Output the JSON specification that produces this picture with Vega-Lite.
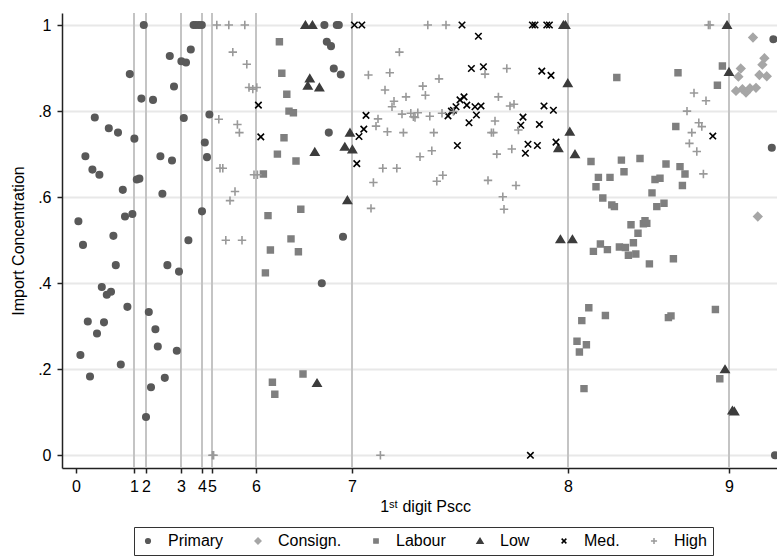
{
  "$schema": "https://vega.github.io/schema/vega-lite/v6.json",
  "autosize": {"type": "none"},
  "padding": {"left": 62, "top": 13, "right": 0, "bottom": 90},
  "width": 715,
  "height": 455,
  "background": "white",
  "config": {
    "font": "Liberation Sans",
    "view": {"stroke": null},
    "axis": {
      "domain": true,
      "ticks": true,
      "labelFont": "Liberation Sans",
      "titleFont": "Liberation Sans",
      "labelFontSize": 16,
      "titleFontSize": 16,
      "titleFontWeight": "normal",
      "labelColor": "#000",
      "titleColor": "#000",
      "domainColor": "#222",
      "domainWidth": 1.5,
      "tickColor": "#222",
      "tickWidth": 1.5,
      "tickSize": 5
    },
    "legend": {
      "orient": "none",
      "legendX": 72,
      "legendY": 514,
      "direction": "horizontal",
      "strokeColor": "#333",
      "padding": 6,
      "labelFont": "Liberation Sans",
      "labelFontSize": 16,
      "labelColor": "#000",
      "labelOffset": 12,
      "columnPadding": 26,
      "symbolSize": 22,
      "symbolStrokeWidth": 1.5
    }
  },
  "datasets": {
    "digits": [
      {"rank": 29}, {"rank": 35}, {"rank": 52.5}, {"rank": 63}, {"rank": 68},
      {"rank": 90}, {"rank": 138}, {"rank": 246}, {"rank": 326.5}
    ],
    "products": [
      {"group": "Primary", "rank": 33.9, "conc": 1},
      {"group": "Primary", "rank": 58.8, "conc": 1},
      {"group": "Primary", "rank": 60, "conc": 1},
      {"group": "Primary", "rank": 61.5, "conc": 1},
      {"group": "Primary", "rank": 62.9, "conc": 1},
      {"group": "Primary", "rank": 46.9, "conc": 0.928},
      {"group": "Primary", "rank": 57.4, "conc": 0.943},
      {"group": "Primary", "rank": 52.7, "conc": 0.916},
      {"group": "Primary", "rank": 55, "conc": 0.913},
      {"group": "Primary", "rank": 26.9, "conc": 0.886},
      {"group": "Primary", "rank": 49, "conc": 0.857},
      {"group": "Primary", "rank": 32.7, "conc": 0.829},
      {"group": "Primary", "rank": 38.5, "conc": 0.826},
      {"group": "Primary", "rank": 9.4, "conc": 0.785},
      {"group": "Primary", "rank": 53.9, "conc": 0.784},
      {"group": "Primary", "rank": 66.7, "conc": 0.792},
      {"group": "Primary", "rank": 16.4, "conc": 0.76},
      {"group": "Primary", "rank": 21, "conc": 0.75},
      {"group": "Primary", "rank": 29.2, "conc": 0.736},
      {"group": "Primary", "rank": 64.4, "conc": 0.727},
      {"group": "Primary", "rank": 4.7, "conc": 0.695},
      {"group": "Primary", "rank": 42.2, "conc": 0.695},
      {"group": "Primary", "rank": 48, "conc": 0.685},
      {"group": "Primary", "rank": 65.5, "conc": 0.693},
      {"group": "Primary", "rank": 8.2, "conc": 0.664},
      {"group": "Primary", "rank": 11.7, "conc": 0.652},
      {"group": "Primary", "rank": 30.4, "conc": 0.641},
      {"group": "Primary", "rank": 31.7, "conc": 0.643},
      {"group": "Primary", "rank": 23.4, "conc": 0.617},
      {"group": "Primary", "rank": 43.2, "conc": 0.608},
      {"group": "Primary", "rank": 1.2, "conc": 0.544},
      {"group": "Primary", "rank": 24.5, "conc": 0.555},
      {"group": "Primary", "rank": 28.2, "conc": 0.561},
      {"group": "Primary", "rank": 63, "conc": 0.567},
      {"group": "Primary", "rank": 18.7, "conc": 0.51},
      {"group": "Primary", "rank": 56.2, "conc": 0.5},
      {"group": "Primary", "rank": 3.5, "conc": 0.489},
      {"group": "Primary", "rank": 45.7, "conc": 0.442},
      {"group": "Primary", "rank": 19.9, "conc": 0.442},
      {"group": "Primary", "rank": 51.5, "conc": 0.427},
      {"group": "Primary", "rank": 12.9, "conc": 0.391},
      {"group": "Primary", "rank": 17.5, "conc": 0.38},
      {"group": "Primary", "rank": 15.4, "conc": 0.373},
      {"group": "Primary", "rank": 25.7, "conc": 0.345},
      {"group": "Primary", "rank": 36.4, "conc": 0.333},
      {"group": "Primary", "rank": 5.9, "conc": 0.311},
      {"group": "Primary", "rank": 14, "conc": 0.309},
      {"group": "Primary", "rank": 39.7, "conc": 0.293},
      {"group": "Primary", "rank": 10.5, "conc": 0.283},
      {"group": "Primary", "rank": 40.9, "conc": 0.253},
      {"group": "Primary", "rank": 50.4, "conc": 0.243},
      {"group": "Primary", "rank": 2.2, "conc": 0.233},
      {"group": "Primary", "rank": 22.4, "conc": 0.211},
      {"group": "Primary", "rank": 7, "conc": 0.183},
      {"group": "Primary", "rank": 44.4, "conc": 0.18},
      {"group": "Primary", "rank": 37.5, "conc": 0.158},
      {"group": "Primary", "rank": 35, "conc": 0.089},
      {"group": "Primary", "rank": 124.2, "conc": 1},
      {"group": "Primary", "rank": 130.4, "conc": 1},
      {"group": "Primary", "rank": 131.4, "conc": 1},
      {"group": "Primary", "rank": 125.4, "conc": 0.961},
      {"group": "Primary", "rank": 127.5, "conc": 0.951},
      {"group": "Primary", "rank": 128.9, "conc": 0.899},
      {"group": "Primary", "rank": 132.4, "conc": 0.885},
      {"group": "Primary", "rank": 126.4, "conc": 0.75},
      {"group": "Primary", "rank": 133.5, "conc": 0.508},
      {"group": "Primary", "rank": 122.9, "conc": 0.4},
      {"group": "Primary", "rank": 348.7, "conc": 0.967},
      {"group": "Primary", "rank": 347.9, "conc": 0.715},
      {"group": "Primary", "rank": 349.5, "conc": 0},
      {"group": "Consign.", "rank": 338.5, "conc": 0.971},
      {"group": "Consign.", "rank": 332.4, "conc": 0.899},
      {"group": "Consign.", "rank": 331.2, "conc": 0.88},
      {"group": "Consign.", "rank": 344.2, "conc": 0.923},
      {"group": "Consign.", "rank": 343.2, "conc": 0.908},
      {"group": "Consign.", "rank": 341.7, "conc": 0.884},
      {"group": "Consign.", "rank": 345.4, "conc": 0.881},
      {"group": "Consign.", "rank": 330, "conc": 0.847},
      {"group": "Consign.", "rank": 333.2, "conc": 0.851},
      {"group": "Consign.", "rank": 335, "conc": 0.843},
      {"group": "Consign.", "rank": 337, "conc": 0.853},
      {"group": "Consign.", "rank": 340, "conc": 0.854},
      {"group": "Consign.", "rank": 340.9, "conc": 0.555},
      {"group": "Labour", "rank": 101.7, "conc": 0.961},
      {"group": "Labour", "rank": 102.9, "conc": 0.888},
      {"group": "Labour", "rank": 105.4, "conc": 0.839},
      {"group": "Labour", "rank": 106.5, "conc": 0.8},
      {"group": "Labour", "rank": 108.7, "conc": 0.796},
      {"group": "Labour", "rank": 104, "conc": 0.738},
      {"group": "Labour", "rank": 100.7, "conc": 0.7},
      {"group": "Labour", "rank": 110, "conc": 0.684},
      {"group": "Labour", "rank": 93.7, "conc": 0.654},
      {"group": "Labour", "rank": 112.4, "conc": 0.572},
      {"group": "Labour", "rank": 96, "conc": 0.557},
      {"group": "Labour", "rank": 107.5, "conc": 0.503},
      {"group": "Labour", "rank": 97.2, "conc": 0.477},
      {"group": "Labour", "rank": 111.2, "conc": 0.473},
      {"group": "Labour", "rank": 94.7, "conc": 0.424},
      {"group": "Labour", "rank": 113.5, "conc": 0.189},
      {"group": "Labour", "rank": 98.2, "conc": 0.17},
      {"group": "Labour", "rank": 99.4, "conc": 0.142},
      {"group": "Labour", "rank": 270.4, "conc": 0.878},
      {"group": "Labour", "rank": 301, "conc": 0.889},
      {"group": "Labour", "rank": 323.2, "conc": 0.905},
      {"group": "Labour", "rank": 320.7, "conc": 0.86},
      {"group": "Labour", "rank": 299.9, "conc": 0.764},
      {"group": "Labour", "rank": 257.5, "conc": 0.683},
      {"group": "Labour", "rank": 272.7, "conc": 0.686},
      {"group": "Labour", "rank": 282, "conc": 0.69},
      {"group": "Labour", "rank": 295, "conc": 0.677},
      {"group": "Labour", "rank": 302, "conc": 0.671},
      {"group": "Labour", "rank": 304.5, "conc": 0.654},
      {"group": "Labour", "rank": 303.2, "conc": 0.627},
      {"group": "Labour", "rank": 261.2, "conc": 0.646},
      {"group": "Labour", "rank": 267, "conc": 0.646},
      {"group": "Labour", "rank": 274, "conc": 0.659},
      {"group": "Labour", "rank": 260, "conc": 0.624},
      {"group": "Labour", "rank": 289.5, "conc": 0.641},
      {"group": "Labour", "rank": 292, "conc": 0.644},
      {"group": "Labour", "rank": 288, "conc": 0.61},
      {"group": "Labour", "rank": 263.4, "conc": 0.598},
      {"group": "Labour", "rank": 267.9, "conc": 0.582},
      {"group": "Labour", "rank": 269.2, "conc": 0.578},
      {"group": "Labour", "rank": 290.4, "conc": 0.578},
      {"group": "Labour", "rank": 294, "conc": 0.586},
      {"group": "Labour", "rank": 277.5, "conc": 0.536},
      {"group": "Labour", "rank": 283.7, "conc": 0.538},
      {"group": "Labour", "rank": 285.4, "conc": 0.539},
      {"group": "Labour", "rank": 284.5, "conc": 0.545},
      {"group": "Labour", "rank": 281, "conc": 0.516},
      {"group": "Labour", "rank": 278.7, "conc": 0.494},
      {"group": "Labour", "rank": 262.2, "conc": 0.491},
      {"group": "Labour", "rank": 258.7, "conc": 0.474},
      {"group": "Labour", "rank": 265.7, "conc": 0.478},
      {"group": "Labour", "rank": 271.7, "conc": 0.484},
      {"group": "Labour", "rank": 274.7, "conc": 0.483},
      {"group": "Labour", "rank": 276.2, "conc": 0.465},
      {"group": "Labour", "rank": 279.9, "conc": 0.468},
      {"group": "Labour", "rank": 286.7, "conc": 0.445},
      {"group": "Labour", "rank": 298.7, "conc": 0.457},
      {"group": "Labour", "rank": 256.4, "conc": 0.343},
      {"group": "Labour", "rank": 252.9, "conc": 0.313},
      {"group": "Labour", "rank": 264.7, "conc": 0.325},
      {"group": "Labour", "rank": 250.5, "conc": 0.265},
      {"group": "Labour", "rank": 255.2, "conc": 0.257},
      {"group": "Labour", "rank": 251.7, "conc": 0.24},
      {"group": "Labour", "rank": 254, "conc": 0.155},
      {"group": "Labour", "rank": 296.2, "conc": 0.32},
      {"group": "Labour", "rank": 297.5, "conc": 0.324},
      {"group": "Labour", "rank": 319.7, "conc": 0.339},
      {"group": "Labour", "rank": 321.9, "conc": 0.178},
      {"group": "Low", "rank": 114.7, "conc": 1},
      {"group": "Low", "rank": 118.2, "conc": 1},
      {"group": "Low", "rank": 116.9, "conc": 0.876},
      {"group": "Low", "rank": 115.9, "conc": 0.859},
      {"group": "Low", "rank": 121.7, "conc": 0.855},
      {"group": "Low", "rank": 137, "conc": 0.75},
      {"group": "Low", "rank": 134.4, "conc": 0.717},
      {"group": "Low", "rank": 138.2, "conc": 0.711},
      {"group": "Low", "rank": 119.4, "conc": 0.705},
      {"group": "Low", "rank": 135.7, "conc": 0.593},
      {"group": "Low", "rank": 120.5, "conc": 0.168},
      {"group": "Low", "rank": 243.7, "conc": 1},
      {"group": "Low", "rank": 244.7, "conc": 1},
      {"group": "Low", "rank": 245.9, "conc": 0.865},
      {"group": "Low", "rank": 246.9, "conc": 0.752},
      {"group": "Low", "rank": 241.2, "conc": 0.714},
      {"group": "Low", "rank": 249.5, "conc": 0.7},
      {"group": "Low", "rank": 242.2, "conc": 0.502},
      {"group": "Low", "rank": 248.2, "conc": 0.502},
      {"group": "Low", "rank": 325.5, "conc": 1},
      {"group": "Low", "rank": 326.5, "conc": 0.891},
      {"group": "Low", "rank": 324.5, "conc": 0.2},
      {"group": "Low", "rank": 328.2, "conc": 0.104},
      {"group": "Low", "rank": 329.2, "conc": 0.102},
      {"group": "Med.", "rank": 139.2, "conc": 1},
      {"group": "Med.", "rank": 142.9, "conc": 1},
      {"group": "Med.", "rank": 193, "conc": 1},
      {"group": "Med.", "rank": 201.2, "conc": 0.974},
      {"group": "Med.", "rank": 197.7, "conc": 0.899},
      {"group": "Med.", "rank": 203.7, "conc": 0.903},
      {"group": "Med.", "rank": 91.2, "conc": 0.814},
      {"group": "Med.", "rank": 92.4, "conc": 0.74},
      {"group": "Med.", "rank": 145, "conc": 0.79},
      {"group": "Med.", "rank": 143.9, "conc": 0.758},
      {"group": "Med.", "rank": 141.5, "conc": 0.741},
      {"group": "Med.", "rank": 140.4, "conc": 0.678},
      {"group": "Med.", "rank": 186, "conc": 0.789},
      {"group": "Med.", "rank": 187.7, "conc": 0.8},
      {"group": "Med.", "rank": 188.7, "conc": 0.802},
      {"group": "Med.", "rank": 190, "conc": 0.81},
      {"group": "Med.", "rank": 192, "conc": 0.826},
      {"group": "Med.", "rank": 194, "conc": 0.833},
      {"group": "Med.", "rank": 195.4, "conc": 0.814},
      {"group": "Med.", "rank": 199.5, "conc": 0.81},
      {"group": "Med.", "rank": 202.5, "conc": 0.812},
      {"group": "Med.", "rank": 200.2, "conc": 0.791},
      {"group": "Med.", "rank": 196.5, "conc": 0.773},
      {"group": "Med.", "rank": 190.7, "conc": 0.72},
      {"group": "Med.", "rank": 228.2, "conc": 1},
      {"group": "Med.", "rank": 229.5, "conc": 1},
      {"group": "Med.", "rank": 235.4, "conc": 1},
      {"group": "Med.", "rank": 236.7, "conc": 1},
      {"group": "Med.", "rank": 232.9, "conc": 0.893},
      {"group": "Med.", "rank": 237.5, "conc": 0.883},
      {"group": "Med.", "rank": 234, "conc": 0.812},
      {"group": "Med.", "rank": 238.7, "conc": 0.802},
      {"group": "Med.", "rank": 223.5, "conc": 0.786},
      {"group": "Med.", "rank": 222.4, "conc": 0.767},
      {"group": "Med.", "rank": 231.7, "conc": 0.769},
      {"group": "Med.", "rank": 226, "conc": 0.723},
      {"group": "Med.", "rank": 230.7, "conc": 0.72},
      {"group": "Med.", "rank": 224.7, "conc": 0.702},
      {"group": "Med.", "rank": 240, "conc": 0.728},
      {"group": "Med.", "rank": 318.4, "conc": 0.742},
      {"group": "Med.", "rank": 227.2, "conc": 0},
      {"group": "High", "rank": 68.2, "conc": 0},
      {"group": "High", "rank": 68.8, "conc": 0},
      {"group": "High", "rank": 70.4, "conc": 1},
      {"group": "High", "rank": 76.4, "conc": 1},
      {"group": "High", "rank": 84.4, "conc": 1},
      {"group": "High", "rank": 78.4, "conc": 0.937},
      {"group": "High", "rank": 85.4, "conc": 0.909},
      {"group": "High", "rank": 86.5, "conc": 0.855},
      {"group": "High", "rank": 88.4, "conc": 0.851},
      {"group": "High", "rank": 90.4, "conc": 0.855},
      {"group": "High", "rank": 71.4, "conc": 0.781},
      {"group": "High", "rank": 80.7, "conc": 0.769},
      {"group": "High", "rank": 81.7, "conc": 0.75},
      {"group": "High", "rank": 72, "conc": 0.667},
      {"group": "High", "rank": 73.4, "conc": 0.667},
      {"group": "High", "rank": 89, "conc": 0.652},
      {"group": "High", "rank": 90.7, "conc": 0.652},
      {"group": "High", "rank": 79.5, "conc": 0.613},
      {"group": "High", "rank": 77, "conc": 0.592},
      {"group": "High", "rank": 74.9, "conc": 0.5},
      {"group": "High", "rank": 83, "conc": 0.5},
      {"group": "High", "rank": 175.9, "conc": 1},
      {"group": "High", "rank": 185, "conc": 1},
      {"group": "High", "rank": 161.7, "conc": 0.937},
      {"group": "High", "rank": 146.2, "conc": 0.884},
      {"group": "High", "rank": 156.9, "conc": 0.889},
      {"group": "High", "rank": 181.5, "conc": 0.875},
      {"group": "High", "rank": 154.5, "conc": 0.849},
      {"group": "High", "rank": 173.4, "conc": 0.858},
      {"group": "High", "rank": 174.7, "conc": 0.837},
      {"group": "High", "rank": 165, "conc": 0.833},
      {"group": "High", "rank": 159, "conc": 0.823},
      {"group": "High", "rank": 158, "conc": 0.81},
      {"group": "High", "rank": 163, "conc": 0.793},
      {"group": "High", "rank": 167.4, "conc": 0.795},
      {"group": "High", "rank": 168.7, "conc": 0.787},
      {"group": "High", "rank": 170.9, "conc": 0.796},
      {"group": "High", "rank": 169.5, "conc": 0.785},
      {"group": "High", "rank": 176.9, "conc": 0.788},
      {"group": "High", "rank": 183, "conc": 0.795},
      {"group": "High", "rank": 188.7, "conc": 0.799},
      {"group": "High", "rank": 150, "conc": 0.765},
      {"group": "High", "rank": 151, "conc": 0.782},
      {"group": "High", "rank": 155.7, "conc": 0.752},
      {"group": "High", "rank": 163.7, "conc": 0.75},
      {"group": "High", "rank": 178.9, "conc": 0.75},
      {"group": "High", "rank": 153.4, "conc": 0.667},
      {"group": "High", "rank": 160.4, "conc": 0.667},
      {"group": "High", "rank": 172, "conc": 0.694},
      {"group": "High", "rank": 177.9, "conc": 0.708},
      {"group": "High", "rank": 148.7, "conc": 0.634},
      {"group": "High", "rank": 180.4, "conc": 0.637},
      {"group": "High", "rank": 183.4, "conc": 0.651},
      {"group": "High", "rank": 147.5, "conc": 0.574},
      {"group": "High", "rank": 152.2, "conc": 0},
      {"group": "High", "rank": 204.5, "conc": 0.886},
      {"group": "High", "rank": 207.7, "conc": 0.75},
      {"group": "High", "rank": 208.7, "conc": 0.75},
      {"group": "High", "rank": 209.5, "conc": 0.777},
      {"group": "High", "rank": 211.2, "conc": 0.833},
      {"group": "High", "rank": 206, "conc": 0.639},
      {"group": "High", "rank": 210.4, "conc": 0.7},
      {"group": "High", "rank": 215.4, "conc": 0.899},
      {"group": "High", "rank": 217, "conc": 0.812},
      {"group": "High", "rank": 219, "conc": 0.816},
      {"group": "High", "rank": 221.2, "conc": 0.756},
      {"group": "High", "rank": 217.9, "conc": 0.712},
      {"group": "High", "rank": 220, "conc": 0.627},
      {"group": "High", "rank": 213.4, "conc": 0.601},
      {"group": "High", "rank": 214, "conc": 0.572},
      {"group": "High", "rank": 316.2, "conc": 1},
      {"group": "High", "rank": 317, "conc": 1},
      {"group": "High", "rank": 309, "conc": 0.842},
      {"group": "High", "rank": 315, "conc": 0.824},
      {"group": "High", "rank": 305.5, "conc": 0.8},
      {"group": "High", "rank": 311.4, "conc": 0.773},
      {"group": "High", "rank": 312.9, "conc": 0.764},
      {"group": "High", "rank": 307.9, "conc": 0.75},
      {"group": "High", "rank": 306.7, "conc": 0.725},
      {"group": "High", "rank": 310.4, "conc": 0.706},
      {"group": "High", "rank": 313.7, "conc": 0.654}
    ]
  },
  "layer": [
    {
      "data": {"name": "digits"},
      "mark": {"type": "rule", "color": "#c4c4c4", "strokeWidth": 2},
      "encoding": {
        "x": {
          "field": "rank",
          "type": "quantitative",
          "scale": {"domain": [-7, 350.5], "nice": false, "zero": false},
          "axis": {
            "title": "1ˢᵗ digit Pscc",
            "titleX": 363,
            "titlePadding": 4,
            "values": [0, 29, 35, 52.5, 63, 68, 90, 138, 246, 326.5],
            "labelExpr": "'' + indexof([0, 29, 35, 52.5, 63, 68, 90, 138, 246, 326.5], datum.value)",
            "labelOverlap": false,
            "labelFlush": false,
            "labelBound": false,
            "labelPadding": 5,
            "grid": false
          }
        }
      }
    },
    {
      "data": {"name": "products"},
      "mark": {"type": "point", "filled": true, "opacity": 1, "size": 42, "strokeWidth": 1.6},
      "encoding": {
        "x": {
          "field": "rank",
          "type": "quantitative",
          "scale": {"domain": [-7, 350.5], "nice": false, "zero": false},
          "axis": {
            "title": "1ˢᵗ digit Pscc",
            "titleX": 363,
            "titlePadding": 4,
            "values": [0, 29, 35, 52.5, 63, 68, 90, 138, 246, 326.5],
            "labelExpr": "'' + indexof([0, 29, 35, 52.5, 63, 68, 90, 138, 246, 326.5], datum.value)",
            "labelOverlap": false,
            "labelFlush": false,
            "labelBound": false,
            "labelPadding": 5,
            "grid": false
          }
        },
        "y": {
          "field": "conc",
          "type": "quantitative",
          "scale": {"domain": [-0.0295, 1.028], "nice": false, "zero": false},
          "axis": {
            "title": "Import Concentration",
            "titlePadding": 11,
            "values": [0, 0.2, 0.4, 0.6, 0.8, 1],
            "labelExpr": "datum.value > 0 && datum.value < 1 ? substring(format(datum.value, '.1f'), 1) : format(datum.value, 'd')",
            "labelPadding": 6,
            "grid": true,
            "gridColor": "#e8e8e8",
            "gridWidth": 2
          }
        },
        "fill": {
          "field": "group",
          "type": "nominal",
          "title": null,
          "scale": {
            "domain": ["Primary", "Consign.", "Labour", "Low", "Med.", "High"],
            "range": ["#595959", "#a6a6a6", "#7f7f7f", "#3c3c3c", "#000000", "#999999"]
          }
        },
        "stroke": {
          "field": "group",
          "type": "nominal",
          "title": null,
          "scale": {
            "domain": ["Primary", "Consign.", "Labour", "Low", "Med.", "High"],
            "range": ["#595959", "#a6a6a6", "#7f7f7f", "#3c3c3c", "#000000", "#999999"]
          }
        },
        "shape": {
          "field": "group",
          "type": "nominal",
          "title": null,
          "scale": {
            "domain": ["Primary", "Consign.", "Labour", "Low", "Med.", "High"],
            "range": [
              "circle",
              "M0,-1.25L1.25,0L0,1.25L-1.25,0Z",
              "M-0.9,-0.9L0.9,-0.9L0.9,0.9L-0.9,0.9Z",
              "M0,-1.1L1.25,1L-1.25,1Z",
              "M-1,-1L1,1M-1,1L1,-1",
              "M-1.3,0L1.3,0M0,-1.3L0,1.3"
            ]
          }
        }
      }
    }
  ]
}
